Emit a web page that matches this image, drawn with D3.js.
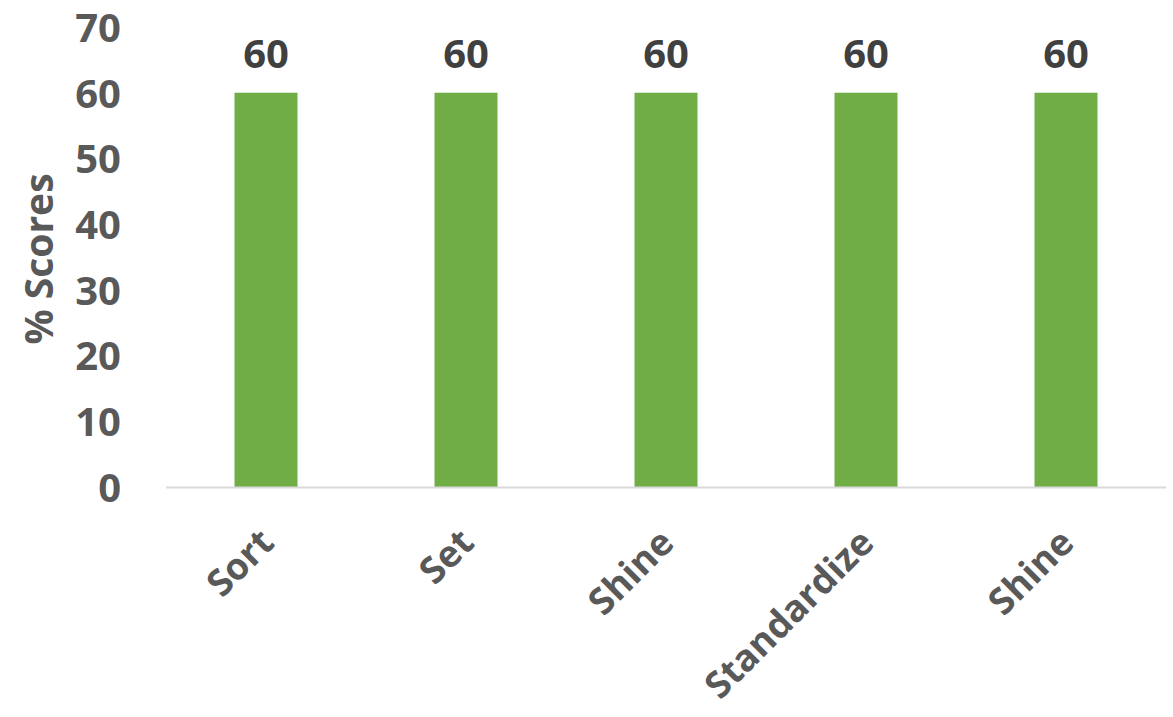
<!DOCTYPE html>
<html>
<head>
<meta charset="utf-8">
<script src="https://cdn.jsdelivr.net/npm/d3@7"></script>
<style>
  html, body { margin: 0; padding: 0; background: #fff; }
  svg { display: block; }
  text { font-family: "Open Sans", "Noto Sans", sans-serif; font-weight: 700; }
</style>
</head>
<body>
<svg id="chart" width="1173" height="717"></svg>
<script>
// Chart data
const categories = ["Sort", "Set", "Shine", "Standardize", "Shine"];
const scores = [60, 60, 60, 60, 60];
const yTicks = [0, 10, 20, 30, 40, 50, 60, 70];
const yTitle = "% Scores";

const W = 1173, H = 717;
const plot = { left: 166, right: 1166, top: 27, bottom: 487 };

const svg = d3.select("#chart");

const x = d3.scaleBand()
  .domain(d3.range(categories.length))
  .range([plot.left, plot.right])
  .paddingInner(0.685)
  .paddingOuter(0.3425);

const y = d3.scaleLinear()
  .domain([0, 70])
  .range([plot.bottom, plot.top]);

// Bars
svg.append("g").selectAll("rect")
  .data(scores)
  .join("rect")
  .attr("x", (d, i) => x(i))
  .attr("y", d => y(d))
  .attr("width", x.bandwidth())
  .attr("height", d => y(0) - y(d))
  .attr("fill", "#70AD47");

// Baseline
svg.append("line")
  .attr("x1", plot.left).attr("x2", plot.right)
  .attr("y1", y(0) + 0.5).attr("y2", y(0) + 0.5)
  .attr("stroke", "#d9d9d9").attr("stroke-width", 2);

// Y axis tick labels
const yAxis = d3.axisLeft(y).tickValues(yTicks).tickSize(0).tickPadding(0);
const gy = svg.append("g")
  .attr("transform", `translate(${121},0)`)
  .call(yAxis);
gy.select(".domain").remove();
gy.selectAll("text")
  .attr("fill", "#595959")
  .style("font-size", "40px")
  .attr("dy", "0.36em");

// X axis category labels, rotated
const xAxis = d3.axisBottom(x).tickFormat(i => categories[i]).tickSize(0).tickPadding(0);
const gx = svg.append("g")
  .attr("transform", `translate(0,${plot.bottom})`)
  .call(xAxis);
gx.select(".domain").remove();
gx.selectAll("text")
  .attr("fill", "#595959")
  .style("font-size", "37px")
  .attr("text-anchor", "end")
  .attr("dy", null)
  .attr("y", null)
  .attr("transform", "translate(10,58) rotate(-45)");

// Data labels
svg.append("g").selectAll("text")
  .data(scores)
  .join("text")
  .attr("x", (d, i) => x(i) + x.bandwidth() / 2)
  .attr("y", d => y(d) - 25)
  .attr("text-anchor", "middle")
  .attr("fill", "#404040")
  .style("font-size", "40px")
  .text(d => d);

// Y axis title
svg.append("text")
  .attr("transform", `translate(53,${259}) rotate(-90)`)
  .attr("text-anchor", "middle")
  .attr("fill", "#595959")
  .style("font-size", "39px")
  .text(yTitle);
</script>
</body>
</html>
